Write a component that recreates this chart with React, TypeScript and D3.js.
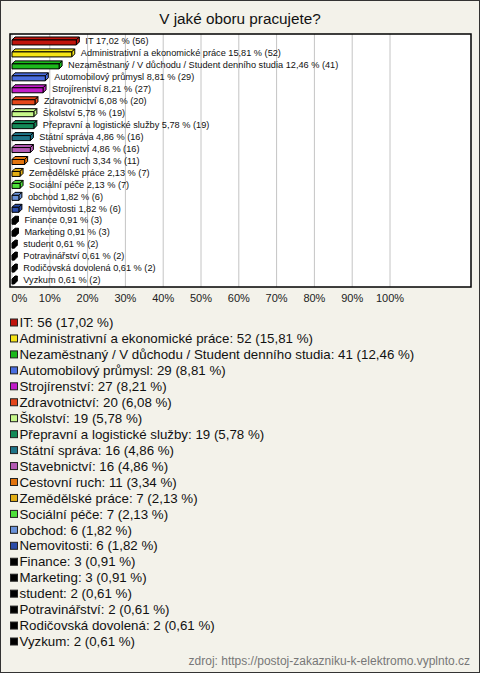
import React from "react";
import * as d3 from "d3";

const categories = [
  "IT",
  "Administrativní a ekonomické práce",
  "Nezaměstnaný / V důchodu / Student denního studia",
  "Automobilový průmysl",
  "Strojírenství",
  "Zdravotnictví",
  "Školství",
  "Přepravní a logistické služby",
  "Státní správa",
  "Stavebnictví",
  "Cestovní ruch",
  "Zemědělské práce",
  "Sociální péče",
  "obchod",
  "Nemovitosti",
  "Finance",
  "Marketing",
  "student",
  "Potravinářství",
  "Rodičovská dovolená",
  "Vyzkum",
];
const counts = [56, 52, 41, 29, 27, 20, 19, 19, 16, 16, 11, 7, 7, 6, 6, 3, 3, 2, 2, 2, 2];
const percents = [17.02, 15.81, 12.46, 8.81, 8.21, 6.08, 5.78, 5.78, 4.86, 4.86, 3.34, 2.13, 2.13, 1.82, 1.82, 0.91, 0.91, 0.61, 0.61, 0.61, 0.61];
const colors = [
  "#c0140c", "#f5e416", "#1cb81c", "#4a6ee0", "#c21cc8", "#e4461a", "#c6f78a",
  "#138a58", "#1f7488", "#b45ab4", "#e2740e", "#e2ae14", "#4ee03a", "#6a92d8",
  "#2a4ca8", "#000000", "#000000", "#000000", "#000000", "#000000", "#000000",
];
const tickValues = [0, 10, 20, 30, 40, 50, 60, 70, 80, 90, 100];
const title = "V jaké oboru pracujete?";
const source = "zdroj: https://postoj-zakazniku-k-elektromo.vyplnto.cz";

const fmt = (v: number) => v.toFixed(2).replace(".", ",");
const FONT = "'Liberation Sans', Arial, sans-serif";

export default function App() {
  const W = 480;
  const H = 673;
  const plot = { x: 10, y: 34, w: 461, h: 253 };
  const x = d3.scaleLinear().domain([0, 100]).range([12, 390]);
  const y = d3.scaleBand<number>().domain(d3.range(categories.length)).range([plot.y + 1, plot.y + plot.h - 1]);
  const depth = 3;
  const barH = 5;
  const legendY = d3.scaleLinear().domain([0, categories.length - 1]).range([322.5, 641.5]);

  return (
    <svg width={W} height={H} style={{ position: "absolute", left: 0, top: 0 }}>
      <rect x={0.5} y={0.5} width={W - 1} height={H - 1} fill="#f3f2ea" stroke="#333" strokeWidth={1} />
      <text x={240} y={24} textAnchor="middle" fontFamily={FONT} fontSize={15.3} fill="#111">{title}</text>
      <rect x={plot.x} y={plot.y} width={plot.w} height={plot.h} fill="#fff" />
      {tickValues.map((t) => (
        <line key={"g" + t} x1={x(t)} x2={x(t)} y1={plot.y} y2={plot.y + plot.h} stroke="#c4c4c4" strokeWidth={1} />
      ))}
      {percents.map((p, i) => {
        const cy = (y(i) as number) + y.bandwidth() / 2;
        const x0 = x(0);
        const x1 = x(p);
        const top = cy - barH / 2 + 1.5;
        const bottom = top + barH;
        const front = `M${x0},${top}H${x1}V${bottom}H${x0}Z`;
        const topFace = `M${x0},${top}L${x0 + depth},${top - depth}H${x1 + depth}L${x1},${top}Z`;
        const side = `M${x1},${top}L${x1 + depth},${top - depth}V${bottom - depth}L${x1},${bottom}Z`;
        return (
          <g key={"b" + i} stroke="#000" strokeWidth={1} strokeLinejoin="round">
            <path d={topFace} fill={colors[i]} />
            <path d={side} fill={colors[i]} />
            <path d={front} fill={colors[i]} />
            <text
              x={x1 + 9}
              y={cy}
              dy="0.35em"
              stroke="none"
              fontFamily={FONT}
              fontSize={9.2}
              fill="#111"
            >
              {`${categories[i]} ${fmt(p)} % (${counts[i]})`}
            </text>
          </g>
        );
      })}
      <rect x={plot.x} y={plot.y} width={plot.w} height={plot.h} fill="none" stroke="#000" strokeWidth={1.5} />
      {tickValues.map((t) => (
        <text
          key={"t" + t}
          x={t === 0 ? 11.5 : x(t)}
          y={298}
          dy="0.35em"
          textAnchor={t === 0 ? "start" : "middle"}
          fontFamily={FONT}
          fontSize={11}
          fill="#222"
        >
          {`${t}%`}
        </text>
      ))}
      {categories.map((c, i) => {
        const cy = legendY(i);
        return (
          <g key={"l" + i}>
            <rect x={10.5} y={cy - 3.5} width={7} height={7} fill={colors[i]} stroke="#222" strokeWidth={1} />
            <text x={19.5} y={cy} dy="0.35em" fontFamily={FONT} fontSize={13.3} fill="#111">
              {`${c}: ${counts[i]} (${fmt(percents[i])} %)`}
            </text>
          </g>
        );
      })}
      <text x={470} y={661} dy="0.35em" textAnchor="end" fontFamily={FONT} fontSize={12} fill="#777">{source}</text>
    </svg>
  );
}
